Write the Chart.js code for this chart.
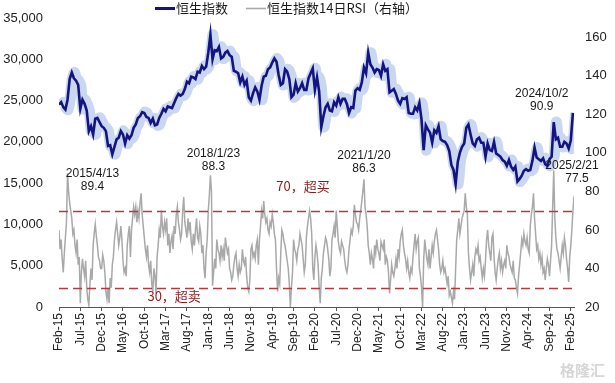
<!DOCTYPE html>
<html>
<head>
<meta charset="utf-8">
<script src="https://cdn.jsdelivr.net/npm/chart.js@4.4.1/dist/chart.umd.min.js"></script>
<style>
html, body { margin: 0; padding: 0; background: #fff; }
#wrap { position: relative; width: 615px; height: 383px; }
</style>
</head>
<body>
<div id="wrap"><canvas id="chart" width="615" height="383"></canvas></div>
<script>
// x轴刻度（每5个月一个，x值 = 距2015年2月的月数）
const tickLabels = ["Feb-15","Jul-15","Dec-15","May-16","Oct-16","Mar-17","Aug-17","Jan-18","Jun-18","Nov-18",
    "Apr-19","Sep-19","Feb-20","Jul-20","Dec-20","May-21","Oct-21","Mar-22","Aug-22","Jan-23",
    "Jun-23","Nov-23","Apr-24","Sep-24","Feb-25"];

// 恒生指数，半月取样（每月上、下半月各一个）
const hsi = [
    // 2015 Feb-Dec
    24500,24800, 24200,23900, 25100,27600, 28400,27700, 27400,26900, 24000,25100, 24600,23800, 21300,21900, 20900,22800, 22900,22400, 21900,21700,
    // 2016
    21300,19500, 19600,18500, 19400,20300, 20500,21300, 20900,19800, 20800,20400, 20800,21700, 22100,22900, 23100,23600, 23500,23000, 22900,22300, 22800,22000,
    // 2017
    22100,22900, 23400,24000, 23700,24300, 24200,24100, 24700,25300, 25800,25600, 25800,26400, 27300,27100, 27900,27800, 27600,28500, 28400,29200, 28800,29100,
    // 2018
    30800,33000, 30000,31100, 31000,31500, 30100,30300, 30800,31000, 30500,30300, 28600,28500, 28300,27200, 27900,26900, 27400,25400, 25000,25900, 26600,26100,
    // 2019
    25100,26800, 27900,28000, 28800,29000, 29600,30100, 29700,28100, 26900,27100, 28800,28500, 27600,25400, 25700,27100, 26100,26500, 27100,26300, 26300,27700,
    // 2020
    28300,28900, 26300,27800, 26100,21800, 23100,24200, 24600,23800, 23700,24800, 24400,25400, 24600,25200, 25200,24600, 23500,24200, 24100,26200, 26500,26300,
    // 2021
    27200,29000, 28300,30800, 29400,29000, 28400,28800, 28700,28000, 29400,28600, 28800,26000, 26200,26400, 25800,25000, 24600,25300, 25200,25400, 23500,23400,
    // 2022
    23400,24200, 23800,24700, 22700,19000, 22000,21500, 21100,19900, 21400,21100, 21900,20300, 20100,20000, 19600,18900, 17200,16600, 14900,17600, 18700,19400,
    // 2023
    19800,21700, 22100,20900, 19800,19500, 20300,20500, 19900,19900, 18200,19800, 19000,18900, 20000,18600, 18400,18200, 17800,17600, 17100,17800, 17000,16600,
    // 2024
    17000,15200, 15500,15900, 16500,16700, 16500,16600, 17700,19300, 18100,17900, 17700,18000, 17300,17100, 17900,18200, 22400,20300, 20500,19400, 19400,20000,
    // 2025 Jan-Feb
    19800,19200, 20200,23500
];

// 恒生指数14日RSI（右轴），按周取样（每月4个）
const rsi = [
    // 2015 Feb-Dec
    60,50,55,45, 38,48,56,64, 89.4,80,74,70, 66,58,60,52, 48,55,42,46, 22,38,45,40,
    36,44,30,24, 21,32,40,34, 52,58,63,57, 52,46,44,40, 40,47,44,38,
    // 2016
    28,24,30,22, 35,30,42,46, 55,60,64,58, 52,56,62,55, 44,38,40,36, 52,58,62,46,
    60,66,72,68, 72,64,70,66, 74,79,68,62, 56,50,46,52, 42,38,44,32, 28,40,36,27,
    // 2017
    46,52,60,56, 70,62,58,64, 60,66,52,58, 48,54,57,50, 62,58,68,72, 64,60,55,58,
    70,77,64,60, 56,66,60,64, 54,50,58,52, 60,66,56,54, 62,58,48,52, 40,35,48,55,
    // 2018
    70,78,88.3,80, 31,38,45,40, 55,50,48,44, 52,46,50,44, 56,52,48,50, 40,38,34,36,
    42,46,48,40, 36,42,38,40, 50,44,42,46, 36,30,28,34, 50,52,46,48, 45,52,55,42,
    // 2019
    55,62,70,66, 75,68,64,66, 60,58,64,62, 68,64,58,55, 40,28,35,32, 48,60,58,54,
    52,48,44,40, 32,20,30,38, 55,50,48,44, 50,52,58,55, 52,45,38,42, 56,62,66,70,
    // 2020
    66,58,40,34, 46,52,48,42, 30,22,35,40, 48,52,56,54, 50,45,36,40, 55,58,62,56,
    70,62,54,50, 48,54,52,50, 44,40,38,42, 50,55,60,58, 62,73,68,64, 63,60,66,70,
    // 2021
    75,80,86.3,72, 68,62,52,48, 42,48,45,40, 52,48,55,50, 48,44,54,52, 50,55,42,46,
    44,38,27,34, 42,38,36,40, 45,40,50,46, 54,58,60,52, 48,45,40,44, 38,35,40,38,
    // 2022
    46,52,58,50, 54,56,40,36, 30,20,44,55, 50,45,42,50, 40,46,52,48, 54,58,60,55,
    50,42,38,40, 44,38,40,36, 32,36,26,28, 25,22,28,24, 40,55,60,66, 58,62,66,68,
    // 2023
    70,79,72,68, 48,40,34,38, 42,36,46,50, 48,52,44,46, 40,35,40,36, 44,55,60,52,
    48,44,56,58, 46,38,34,40, 45,48,40,44, 38,42,44,40, 52,48,46,42, 40,38,44,35,
    // 2024
    34,30,27,36, 42,48,55,52, 58,54,52,56, 50,48,62,68, 72,79,66,58, 50,52,45,48,
    42,46,38,40, 34,40,45,42, 36,44,52,72, 90.9,66,56,50, 48,44,40,46, 52,48,56,52,
    // 2025 Jan-Feb
    45,40,33,46, 52,60,70,77.5
];

// 标注的RSI高点：rsi数组下标 + 日期
const noteIndex = [8, 142, 286, 464, 483];
const noteDates = ["2015/4/13", "2018/1/23", "2021/1/20", "2024/10/2", "2025/2/21"];
// 标注文字相对数据点的偏移（像素）
const noteOffsets = [[25, 0], [3, -22], [0, -24], [-12, -77], [-2, -31]];

const overbought = 70, oversold = 30;
const guideTexts = ["70，超买", "30，超卖"];
const legendTexts = ["恒生指数", "恒生指数14日RSI（右轴）"];

const numFont = "'Liberation Sans', Arial, sans-serif";
const cjkFont = "'Noto Sans CJK SC', 'Liberation Sans', sans-serif";

const hsiPts = hsi.map((v, i) => ({ x: i / 2, y: v }));
const bandPts = hsi.map((v, i) => ({ x: i / 2 + 0.6, y: v }));
const rsiPts = rsi.map((v, i) => ({ x: i / 4, y: v }));

const guides = {
    id: "guides",
    afterDatasetsDraw(chart) {
        const { ctx, chartArea: a, scales } = chart;
        const x = scales.x, y2 = scales.y2;
        ctx.save();
        // 70 / 30 虚线
        ctx.strokeStyle = "#B8383B";
        ctx.lineWidth = 1.3;
        ctx.setLineDash([9, 5]);
        [overbought, oversold].forEach(v => {
            const py = Math.round(y2.getPixelForValue(v)) + 0.5;
            ctx.beginPath();
            ctx.moveTo(a.left, py);
            ctx.lineTo(a.right, py);
            ctx.stroke();
        });
        ctx.setLineDash([]);
        ctx.fillStyle = "#8E1B1B";
        ctx.font = "13px " + cjkFont;
        ctx.textAlign = "center";
        ctx.textBaseline = "middle";
        ctx.fillText(guideTexts[0], x.getPixelForValue(57.2), y2.getPixelForValue(overbought) - 25);
        ctx.fillText(guideTexts[1], x.getPixelForValue(27), y2.getPixelForValue(oversold) + 8);

        // RSI高点标注
        ctx.fillStyle = "#1a1a1a";
        ctx.font = "12px " + numFont;
        noteIndex.forEach((idx, k) => {
            const px = x.getPixelForValue(idx / 4) + noteOffsets[k][0];
            const py = y2.getPixelForValue(rsi[idx]) + noteOffsets[k][1];
            ctx.fillText(noteDates[k], px, py);
            ctx.fillText(String(rsi[idx]), px + (k === 4 ? 5 : 0), py + 13);
        });
        ctx.restore();
    },
    afterDraw(chart) {
        const { ctx } = chart;
        const ds = chart.data.datasets;
        ctx.save();
        // 图例
        ctx.lineCap = "butt";
        ctx.strokeStyle = ds[0].borderColor;
        ctx.lineWidth = 3;
        ctx.beginPath(); ctx.moveTo(155, 8.5); ctx.lineTo(175, 8.5); ctx.stroke();
        ctx.strokeStyle = ds[2].borderColor;
        ctx.lineWidth = 1.6;
        ctx.beginPath(); ctx.moveTo(246, 8.5); ctx.lineTo(266, 8.5); ctx.stroke();
        ctx.fillStyle = "#1a1a1a";
        ctx.font = "13px " + cjkFont;
        ctx.textBaseline = "middle";
        ctx.fillText(legendTexts[0], 176, 8);
        ctx.fillText(legendTexts[1], 267, 8);

        // 水印
        ctx.fillStyle = "#d6d6d6";
        ctx.font = "bold 15px " + cjkFont;
        ctx.fillText("格隆汇", 560, 370);
        ctx.restore();
    }
};

new Chart(document.getElementById("chart"), {
    type: "line",
    data: {
        datasets: [
            {
                label: legendTexts[0],
                data: hsiPts,
                yAxisID: "y",
                borderColor: "#131382",
                borderWidth: 2.6,
                pointRadius: 0,
                tension: 0,
                order: 1
            },
            {
                label: "band",
                data: bandPts,
                yAxisID: "y",
                borderColor: "#CAD7F0",
                borderWidth: 11,
                pointRadius: 0,
                tension: 0.2,
                order: 3
            },
            {
                label: legendTexts[1],
                data: rsiPts,
                yAxisID: "y2",
                borderColor: "#A9A9A9",
                borderWidth: 1.5,
                pointRadius: 0,
                tension: 0,
                order: 2
            }
        ]
    },
    options: {
        responsive: false,
        animation: false,
        devicePixelRatio: 1,
        parsing: false,
        layout: { padding: { top: 18, left: 0, right: 0, bottom: 0 } },
        plugins: {
            legend: { display: false },
            tooltip: { enabled: false }
        },
        scales: {
            x: {
                type: "linear",
                min: 0,
                max: 120.75,
                // 每5个月一个刻度，直到 Feb-25
                afterBuildTicks: s => { s.ticks = tickLabels.map((_, i) => ({ value: i * 5 })); },
                afterFit: s => { s.height = 76; },
                grid: { display: true, drawOnChartArea: false, drawTicks: true, tickLength: 4, color: "#555" },
                border: { display: true, color: "#555", width: 1 },
                ticks: {
                    autoSkip: false,
                    minRotation: 90,
                    maxRotation: 90,
                    padding: 2,
                    color: "#222",
                    font: { family: numFont, size: 12 },
                    callback: v => tickLabels[Math.round(v / 5)] || ""
                }
            },
            y: {
                position: "left",
                min: 0,
                max: 35000,
                afterFit: s => { s.width = 59; },
                grid: { display: false },
                border: { display: false },
                ticks: {
                    stepSize: 5000,
                    padding: 8,
                    color: "#222",
                    font: { family: numFont, size: 13 },
                    callback: v => v.toLocaleString("en-US")
                }
            },
            y2: {
                position: "right",
                min: 20,
                max: 170,
                afterFit: s => { s.width = 41; },
                afterBuildTicks: s => { s.ticks = s.ticks.filter(t => t.value <= 160); },
                grid: { display: false },
                border: { display: false },
                ticks: {
                    stepSize: 20,
                    padding: 3,
                    color: "#222",
                    font: { family: numFont, size: 13 }
                }
            }
        }
    },
    plugins: [guides]
});
</script>
</body>
</html>
